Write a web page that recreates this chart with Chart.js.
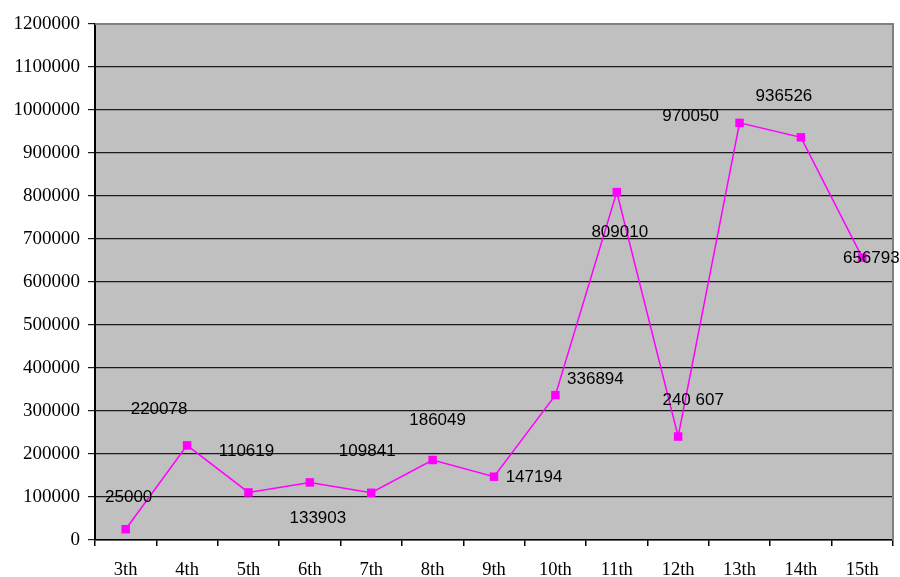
<!DOCTYPE html>
<html>
<head>
<meta charset="utf-8">
<script src="https://cdn.jsdelivr.net/npm/chart.js@4/dist/chart.umd.min.js"></script>
<style>
  html, body { margin: 0; padding: 0; background: #fff; }
  #wrap { width: 900px; height: 577px; position: relative; }
</style>
</head>
<body>
<div id="wrap"><canvas id="c" width="900" height="577"></canvas></div>
<script>
// Categories along the bottom axis
const categories = ['3th', '4th', '5th', '6th', '7th', '8th', '9th', '10th', '11th', '12th', '13th', '14th', '15th'];

// Series values, one per category
const values = [25000, 220078, 110619, 133903, 109841, 186049, 147194, 336894, 809010, 240607, 970050, 936526, 656793];

// Value axis range and step
const yMin = 0;
const yMax = 1200000;
const yStep = 100000;

// Text shown beside each point (the 12th value is written with a space)
const valueLabels = values.map(v => String(v));
valueLabels[9] = '240 607';

// Gray plot background and gray top/right frame
const plotFrame = {
  id: 'plotFrame',
  beforeDraw(chart) {
    const { ctx, chartArea: a } = chart;
    ctx.save();
    ctx.fillStyle = '#c0c0c0';
    ctx.fillRect(a.left, a.top, a.right - a.left, a.bottom - a.top);
    ctx.restore();
  },
  beforeDatasetsDraw(chart) {
    const { ctx, chartArea: a } = chart;
    ctx.save();
    ctx.strokeStyle = '#808080';
    ctx.lineWidth = 2;
    ctx.beginPath();
    ctx.moveTo(a.left, a.top);
    ctx.lineTo(a.right, a.top);
    ctx.lineTo(a.right, a.bottom);
    ctx.stroke();
    ctx.restore();
  }
};

// Value text placed around each point
const pointValues = {
  id: 'pointValues',
  afterDatasetsDraw(chart, args, opts) {
    const { ctx } = chart;
    const meta = chart.getDatasetMeta(0);
    ctx.save();
    ctx.font = opts.font;
    ctx.fillStyle = opts.color;
    ctx.textAlign = 'center';
    ctx.textBaseline = 'middle';
    meta.data.forEach((pt, i) => {
      const [dx, dy] = opts.offsets[i] || [0, -20];
      ctx.fillText(opts.texts[i], pt.x + dx, pt.y + dy);
    });
    ctx.restore();
  }
};

new Chart(document.getElementById('c'), {
  type: 'line',
  data: {
    labels: categories,
    datasets: [{
      data: values,
      borderColor: '#ff00ff',
      backgroundColor: '#ff00ff',
      borderWidth: 1.5,
      pointStyle: 'rect',
      pointRadius: 6,
      pointBorderWidth: 0,
      pointBackgroundColor: '#ff00ff',
      tension: 0,
      fill: false
    }]
  },
  options: {
    responsive: false,
    animation: false,
    devicePixelRatio: 1,
    layout: { padding: { top: 24, right: 7, bottom: 0, left: 0 } },
    plugins: {
      legend: { display: false },
      tooltip: { enabled: false },
      pointValues: {
        texts: valueLabels,
        font: '17px "Liberation Sans", Arial, sans-serif',
        color: '#000',
        offsets: [[3, -32], [-28, -36], [-2, -41], [8, 36], [-4, -41], [5, -40], [40, 1], [40, -16], [3, 40], [15, -36], [-49, -7], [-17, -41], [9, 1]]
      }
    },
    scales: {
      x: {
        type: 'category',
        offset: true,
        grid: { offset: true, drawOnChartArea: false, drawTicks: true, tickLength: 6, color: '#000', lineWidth: 1.5 },
        border: { display: true, color: '#000', width: 1.5 },
        ticks: {
          color: '#000',
          font: { family: '"Liberation Serif", "Times New Roman", serif', size: 18.5 },
          padding: 13,
          maxRotation: 0,
          autoSkip: false
        },
        afterFit(scale) { scale.height = 37; }
      },
      y: {
        min: yMin,
        max: yMax,
        grid: { color: '#1a1a1a', lineWidth: 1.2, drawTicks: true, tickLength: 7 },
        border: { display: true, color: '#000', width: 2 },
        ticks: {
          stepSize: yStep,
          color: '#000',
          font: { family: '"Liberation Serif", "Times New Roman", serif', size: 19 },
          padding: 8,
          callback: v => String(v)
        },
        afterFit(scale) { scale.width = 95; }
      }
    }
  },
  plugins: [plotFrame, pointValues]
});
</script>
</body>
</html>
